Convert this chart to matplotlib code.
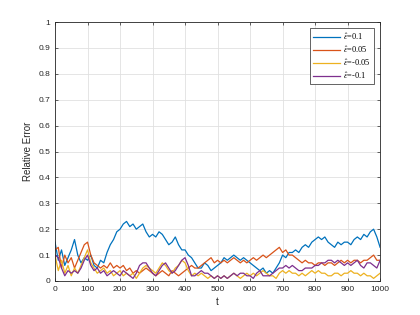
import numpy as np
import matplotlib
matplotlib.use("Agg")
import matplotlib.pyplot as plt

t = list(range(0, 1001, 10))

eps_01 = [0.15, 0.08, 0.12, 0.06, 0.09, 0.12, 0.16, 0.10, 0.07, 0.09,
          0.08, 0.10, 0.06, 0.05, 0.08, 0.07, 0.11, 0.14, 0.16, 0.19,
          0.20, 0.22, 0.23, 0.21, 0.22, 0.20, 0.21, 0.22, 0.19, 0.17,
          0.18, 0.17, 0.19, 0.18, 0.16, 0.14, 0.15, 0.17, 0.14, 0.12,
          0.12, 0.10, 0.09, 0.07, 0.05, 0.05, 0.07, 0.06, 0.04, 0.05,
          0.06, 0.07, 0.09, 0.08, 0.09, 0.10, 0.09, 0.08, 0.09, 0.08,
          0.07, 0.06, 0.05, 0.04, 0.05, 0.03, 0.04, 0.03, 0.05, 0.07,
          0.10, 0.09, 0.11, 0.11, 0.12, 0.11, 0.13, 0.14, 0.13, 0.15,
          0.16, 0.17, 0.16, 0.17, 0.15, 0.14, 0.13, 0.15, 0.14, 0.15,
          0.15, 0.14, 0.16, 0.17, 0.16, 0.18, 0.17, 0.19, 0.20, 0.17, 0.13]

eps_005 = [0.12, 0.13, 0.05, 0.10, 0.07, 0.09, 0.05, 0.08, 0.11, 0.14,
           0.15, 0.10, 0.07, 0.06, 0.05, 0.06, 0.05, 0.07, 0.05, 0.06,
           0.05, 0.06, 0.04, 0.05, 0.03, 0.04, 0.03, 0.04, 0.05, 0.04,
           0.03, 0.02, 0.03, 0.04, 0.03, 0.02, 0.04, 0.03, 0.02, 0.03,
           0.04, 0.05, 0.06, 0.05, 0.05, 0.06, 0.07, 0.08, 0.09, 0.07,
           0.08, 0.07, 0.08, 0.07, 0.08, 0.09, 0.08, 0.07, 0.08, 0.07,
           0.08, 0.09, 0.08, 0.09, 0.10, 0.09, 0.10, 0.11, 0.12, 0.13,
           0.11, 0.12, 0.10, 0.10, 0.09, 0.08, 0.07, 0.08, 0.07, 0.07,
           0.06, 0.07, 0.07, 0.06, 0.07, 0.07, 0.06, 0.07, 0.08, 0.07,
           0.08, 0.07, 0.08, 0.08, 0.07, 0.08, 0.08, 0.09, 0.10, 0.08, 0.08]

eps_m005 = [0.10, 0.04, 0.08, 0.03, 0.06, 0.02, 0.05, 0.03, 0.06, 0.09,
            0.12, 0.07, 0.05, 0.03, 0.04, 0.05, 0.03, 0.04, 0.02, 0.03,
            0.04, 0.02, 0.03, 0.02, 0.03, 0.01, 0.03, 0.05, 0.06, 0.05,
            0.04, 0.03, 0.05, 0.07, 0.06, 0.04, 0.03, 0.05, 0.06, 0.08,
            0.07, 0.04, 0.02, 0.03, 0.02, 0.03, 0.02, 0.01, 0.02, 0.01,
            0.02, 0.01, 0.02, 0.01, 0.02, 0.03, 0.02, 0.01, 0.02, 0.03,
            0.02, 0.03, 0.02, 0.03, 0.04, 0.03, 0.02, 0.02, 0.01, 0.03,
            0.04, 0.03, 0.04, 0.03, 0.03, 0.02, 0.03, 0.02, 0.03, 0.04,
            0.03, 0.04, 0.03, 0.03, 0.02, 0.02, 0.03, 0.03, 0.02, 0.03,
            0.03, 0.04, 0.03, 0.03, 0.02, 0.03, 0.02, 0.02, 0.01, 0.02, 0.03]

eps_m01 = [0.10, 0.09, 0.05, 0.02, 0.04, 0.03, 0.04, 0.03, 0.05, 0.08,
           0.10, 0.06, 0.04, 0.05, 0.03, 0.04, 0.02, 0.03, 0.04, 0.03,
           0.02, 0.04, 0.03, 0.02, 0.01, 0.03, 0.06, 0.07, 0.07, 0.05,
           0.03, 0.02, 0.04, 0.06, 0.07, 0.05, 0.03, 0.04, 0.06, 0.08,
           0.09, 0.06, 0.02, 0.02, 0.03, 0.04, 0.03, 0.03, 0.02, 0.01,
           0.02, 0.01, 0.02, 0.01, 0.02, 0.03, 0.02, 0.03, 0.03, 0.02,
           0.02, 0.01, 0.03, 0.04, 0.02, 0.02, 0.02, 0.03, 0.04, 0.05,
           0.05, 0.06, 0.05, 0.06, 0.05, 0.04, 0.04, 0.05, 0.05, 0.05,
           0.06, 0.06, 0.07, 0.07, 0.08, 0.08, 0.07, 0.08, 0.07, 0.06,
           0.07, 0.06, 0.07, 0.08, 0.06, 0.05, 0.07, 0.07, 0.06, 0.05, 0.08]

labels = [r"$\hat{\varepsilon}$=0.1", r"$\hat{\varepsilon}$=0.05",
          r"$\hat{\varepsilon}$=-0.05", r"$\hat{\varepsilon}$=-0.1"]
colors = ["#0072BD", "#D95319", "#EDB120", "#7E2F8E"]

plt.rcParams["font.family"] = ["Liberation Sans", "DejaVu Sans"]
plt.rcParams["mathtext.fontset"] = "stix"

fig = plt.figure(figsize=(4.2, 3.15), dpi=100)
ax = fig.add_axes([0.131, 0.108, 0.774, 0.822])

for y, c, lab in zip([eps_01, eps_005, eps_m005, eps_m01], colors, labels):
    ax.plot(t, y, color=c, lw=0.9, label=lab)

ax.set_xlim(0, 1000)
ax.set_ylim(0, 1)
ax.set_xticks(np.arange(0, 1001, 100))
ax.set_yticks(np.arange(0, 1.01, 0.1))
ax.set_yticklabels(["0", "0.1", "0.2", "0.3", "0.4", "0.5", "0.6", "0.7", "0.8", "0.9", "1"])
ax.tick_params(direction="in", labelsize=6, length=2.5, width=0.5, colors="#262626",
               top=True, right=True)
ax.grid(True, color="#e0e0e0", lw=0.6)
ax.set_axisbelow(True)
for s in ax.spines.values():
    s.set_linewidth(0.6)
    s.set_color("#262626")
ax.set_xlabel("t", fontsize=7, labelpad=3, color="#262626")
ax.set_ylabel("Relative Error", fontsize=7, labelpad=4, color="#262626")

leg = ax.legend(loc="upper right", prop={"family": "Liberation Serif", "size": 6},
                fancybox=False, framealpha=1, edgecolor="#262626",
                handlelength=3.2, handletextpad=0.4, borderpad=0.4,
                labelspacing=0.3, borderaxespad=0.7)
leg.get_frame().set_linewidth(0.5)

fig.savefig("out.png", dpi=100)
